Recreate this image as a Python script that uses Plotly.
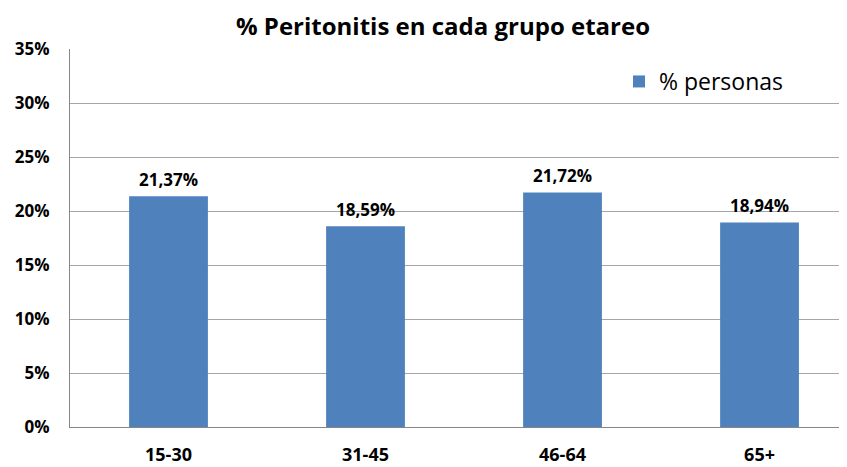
import plotly.graph_objects as go

categories = ["15-30", "31-45", "46-64", "65+"]
values = [21.37, 18.59, 21.72, 18.94]
labels = ["21,37%", "18,59%", "21,72%", "18,94%"]
tick_vals = [0, 5, 10, 15, 20, 25, 30, 35]
tick_text = ["0%", "5%", "10%", "15%", "20%", "25%", "30%", "35%"]
series_name = "% personas"
title = "% Peritonitis en cada grupo etareo"

FONT = "Open Sans"
# page body has an 8px margin; compensate
OFF = 8
W, H = 847 - OFF, 467 - OFF
PL, PT, PB = 70 - OFF, 49 - OFF, 427 - OFF  # plot edges in figure coords
PW = W - PL
PH = PB - PT

fig = go.Figure()
fig.add_trace(go.Bar(
    x=categories, y=values, name=series_name,
    marker=dict(color="#4F81BD", line=dict(width=0)),
    showlegend=True,
))
for c, v, t in zip(categories, values, labels):
    fig.add_annotation(x=c, y=v, text="<b>%s</b>" % t, showarrow=False,
                       yanchor="bottom", yshift=3,
                       font=dict(family=FONT, size=17, color="#000000"))

fig.update_layout(
    width=W, height=H,
    margin=dict(l=PL, r=0, t=PT, b=H - PB, pad=0),
    paper_bgcolor="white", plot_bgcolor="white",
    bargap=0.6,
    title=dict(text="<b>%s</b>" % title, x=(443 - 70) / PW, xref="paper",
               xanchor="center", y=1, yanchor="top", pad=dict(t=10),
               font=dict(family=FONT, size=24, color="#000000")),
    legend=dict(x=(619 - 70) / PW, y=(427 - 60) / PH, xanchor="left", yanchor="top",
                bgcolor="rgba(0,0,0,0)", font=dict(family=FONT, size=23, color="#000000")),
    xaxis=dict(showline=True, linecolor="#868686", linewidth=1, ticks="",
               tickvals=categories, ticktext=["<b>%s</b>" % c for c in categories],
               range=[-0.5, 3.444],
               tickfont=dict(family=FONT, size=18, color="#000000"),
               showgrid=False, fixedrange=True, ticklabelstandoff=11),
    yaxis=dict(range=[0, 35], tickvals=tick_vals,
               ticktext=["<b>%s</b>" % t for t in tick_text],
               showline=True, linecolor="#868686", linewidth=1, ticks="",
               showgrid=True, gridcolor="#A6A6A6", gridwidth=1,
               zeroline=False,
               tickfont=dict(family=FONT, size=17, color="#000000"),
               ticklabelstandoff=16),
)
fig.write_html("out.html")
